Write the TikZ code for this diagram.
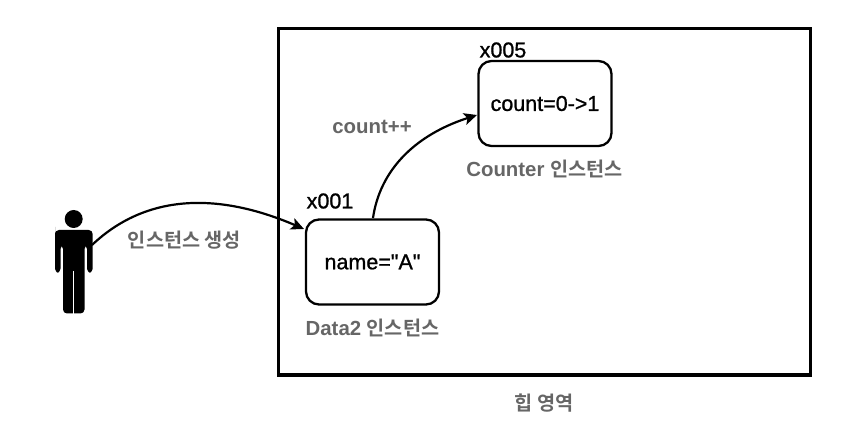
\documentclass[tikz,border=0pt]{standalone}
\usepackage{fontspec}
\setmainfont{Liberation Sans}
\newfontfamily\medfont{Liberation Sans}[FakeBold=1]
\newfontfamily\krfont{Noto Sans CJK KR Bold}
\newfontfamily\latbold{Liberation Sans Bold}
\newcommand{\kr}[1]{{\fontsize{19.7pt}{20pt}\selectfont\krfont #1}}
\usetikzlibrary{arrows.meta}
\definecolor{lab}{HTML}{666666}
\tikzset{
  heap/.style={draw=black,line width=3pt,minimum width=532pt,minimum height=346pt,inner sep=0},
  obj/.style={draw=black,line width=2.3pt,rounded corners=13pt,minimum width=133pt,minimum height=85pt,inner sep=0,font=\fontsize{21.5pt}{22pt}\selectfont\medfont},
  addr/.style={font=\fontsize{21.5pt}{22pt}\selectfont\medfont,inner sep=0,text=black},
  caption/.style={font=\fontsize{20.4pt}{22pt}\selectfont\latbold,text=lab,inner sep=0},
  link/.style={draw=black,line width=2.2pt,-{Stealth[length=13pt,width=12pt,inset=3pt]}},
  figure/.style={fill=black,draw=none}
}
\begin{document}
\begin{tikzpicture}[x=1pt,y=-1pt]
\useasboundingbox (0,0) rectangle (863,422);
\node[heap] (heapbox) at (544,202) {};
\node[obj] (data) at (372.5,262) {name="A"};
\node[obj] (counter) at (545,103.5) {count=0->1};
\node[addr] (xa) at (330,201) {x001};
\node[addr] (xb) at (503,50) {x005};
\node[caption] (capdata) at (372.5,328) {Data2 \kr{인스턴스}};
\node[caption] (capcounter) at (544.5,168.5) {Counter \kr{인스턴스}};
\node[caption] (capcount) at (372,127) {count++};
\node[caption] (capnew) at (184.5,240) {\kr{인스턴스 생성}};
\node[caption] (capheap) at (544,403) {\kr{힙 영역}};
% person
\node[circle,figure,minimum size=18pt,inner sep=0] (head) at (73.7,219) {};
\fill[black,rounded corners=4pt] (55,231) -- (55,230) -- (92.7,230) -- (92.7,272.7) -- (87,272.7) -- (87,245) -- (84.5,245) -- (84.5,313.5) -- (63,313.5) -- (63,245) -- (60.5,245) -- (60.5,272.7) -- (55,272.7) -- cycle;
\draw[white,line width=1pt] (73.7,271) -- (73.7,314);
\coordinate (hand) at (92,245);
\coordinate (dataIn) at (304,229);
\coordinate (dataOut) at (373,218);
\coordinate (counterIn) at (477,115);
\draw[link] (hand) .. controls (150,190) and (225,195) .. (dataIn);
\draw[link] (dataOut) .. controls (380,170) and (415,135) .. (counterIn);
\end{tikzpicture}
\end{document}
